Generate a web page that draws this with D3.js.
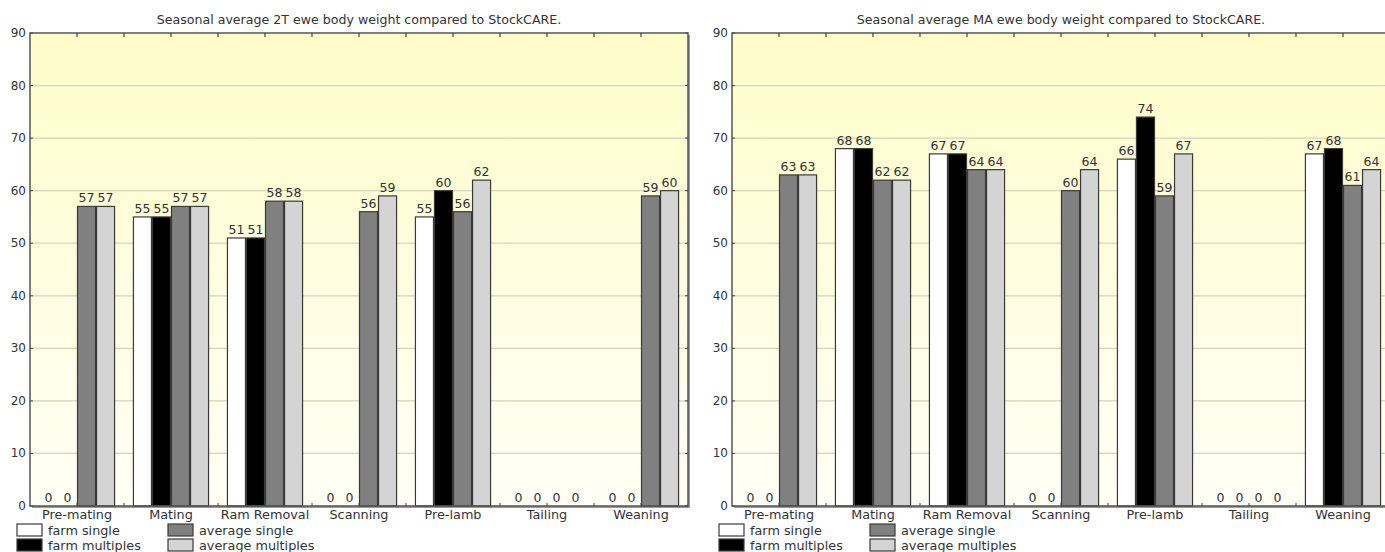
<!DOCTYPE html>
<html>
<head>
<meta charset="utf-8">
<script src="https://cdn.jsdelivr.net/npm/d3@7/dist/d3.min.js"></script>
<style>
  body { margin: 0; background: #fff; }
  text { font-family: "DejaVu Sans", Verdana, sans-serif; fill: #333; }
</style>
</head>
<body>
<script>
const categories = ["Pre-mating", "Mating", "Ram Removal", "Scanning", "Pre-lamb", "Tailing", "Weaning"];
const seriesNames = ["farm single", "farm multiples", "average single", "average multiples"];
const yTicks = [0, 10, 20, 30, 40, 50, 60, 70, 80, 90];

// 2T ewes
const farmSingle2T = [0, 55, 51, 0, 55, 0, 0];
const farmMultiples2T = [0, 55, 51, 0, 60, 0, 0];
const avgSingle2T = [57, 57, 58, 56, 56, 0, 59];
const avgMultiples2T = [57, 57, 58, 59, 62, 0, 60];

// MA ewes
const farmSingleMA = [0, 68, 67, 0, 66, 0, 67];
const farmMultiplesMA = [0, 68, 67, 0, 74, 0, 68];
const avgSingleMA = [63, 62, 64, 60, 59, 0, 61];
const avgMultiplesMA = [63, 62, 64, 64, 67, 0, 64];

const seriesColors = ["#ffffff", "#000000", "#808080", "#d4d4d4"];

const charts = [
    { title: "Seasonal average 2T ewe body weight compared to StockCARE.",
      series: [farmSingle2T, farmMultiples2T, avgSingle2T, avgMultiples2T], left: 30 },
    { title: "Seasonal average MA ewe body weight compared to StockCARE.",
      series: [farmSingleMA, farmMultiplesMA, avgSingleMA, avgMultiplesMA], left: 732 }
];

const W = 1385, H = 552;
const plotW = 658, plotTop = 33, plotBottom = 506;

const svg = d3.select("body").append("svg")
    .attr("width", W)
    .attr("height", H);

const defs = svg.append("defs");
const grad = defs.append("linearGradient")
    .attr("id", "bg")
    .attr("x1", 0).attr("y1", 0).attr("x2", 0).attr("y2", 1);
grad.append("stop").attr("offset", "0%").attr("stop-color", "#fffcc8");
grad.append("stop").attr("offset", "100%").attr("stop-color", "#fffff6");

charts.forEach(chart => {
    const g = svg.append("g").attr("transform", `translate(${chart.left},0)`);

    const x = d3.scaleBand().domain(categories).range([0, plotW]).padding(0);
    const xInner = d3.scaleBand().domain(d3.range(seriesNames.length))
        .range([x.bandwidth() * 0.095, x.bandwidth() * 0.905]).padding(0);
    const y = d3.scaleLinear().domain([0, 90]).range([plotBottom, plotTop]);

    // shadow + plot background
    g.append("rect")
        .attr("x", 2).attr("y", plotTop + 2)
        .attr("width", plotW).attr("height", plotBottom - plotTop)
        .attr("fill", "#9a9a9a");
    g.append("rect")
        .attr("x", 0).attr("y", plotTop)
        .attr("width", plotW).attr("height", plotBottom - plotTop)
        .attr("fill", "url(#bg)");

    // gridlines
    g.selectAll(".grid")
        .data(yTicks.slice(1, -1))
        .enter().append("line")
        .attr("x1", 0).attr("x2", plotW)
        .attr("y1", d => y(d)).attr("y2", d => y(d))
        .attr("stroke", "#d6d3c0")
        .attr("stroke-width", 1.3);

    // bars
    chart.series.forEach((vals, si) => {
        const cells = categories.map((c, i) => ({ cat: c, v: vals[i] }));
        g.selectAll(".bar" + si)
            .data(cells.filter(d => d.v > 0))
            .enter().append("rect")
            .attr("x", d => x(d.cat) + xInner(si) + 0.5)
            .attr("y", d => y(d.v))
            .attr("width", xInner.bandwidth() - 1)
            .attr("height", d => y(0) - y(d.v))
            .attr("fill", seriesColors[si])
            .attr("stroke", "#3a3a3a")
            .attr("stroke-width", 1.2);

        g.selectAll(".lbl" + si)
            .data(cells)
            .enter().append("text")
            .attr("x", d => x(d.cat) + xInner(si) + xInner.bandwidth() / 2)
            .attr("y", d => y(d.v) - 4)
            .attr("text-anchor", "middle")
            .style("font-size", "12.5px")
            .text(d => d.v);
    });

    // plot frame
    g.append("rect")
        .attr("x", 0).attr("y", plotTop)
        .attr("width", plotW).attr("height", plotBottom - plotTop)
        .attr("fill", "none")
        .attr("stroke", "#555")
        .attr("stroke-width", 1.5);

    // top / bottom ticks at every half category
    const halfTicks = d3.range(1, categories.length * 2).map(i => i * x.bandwidth() / 2);
    g.selectAll(".ttick").data(halfTicks).enter().append("line")
        .attr("x1", d => d).attr("x2", d => d)
        .attr("y1", plotTop).attr("y2", plotTop + 4)
        .attr("stroke", "#444").attr("stroke-width", 1.2);
    g.selectAll(".btick").data(halfTicks).enter().append("line")
        .attr("x1", d => d).attr("x2", d => d)
        .attr("y1", plotBottom).attr("y2", plotBottom - 3)
        .attr("stroke", "#444").attr("stroke-width", 1);

    // y axis ticks + labels
    g.selectAll(".ytick").data(yTicks).enter().append("line")
        .attr("x1", 0).attr("x2", 3)
        .attr("y1", d => y(d)).attr("y2", d => y(d))
        .attr("stroke", "#444");
    g.selectAll(".ytickR").data(yTicks).enter().append("line")
        .attr("x1", plotW - 3).attr("x2", plotW)
        .attr("y1", d => y(d)).attr("y2", d => y(d))
        .attr("stroke", "#444");
    g.selectAll(".ylbl").data(yTicks).enter().append("text")
        .attr("x", -4)
        .attr("y", d => y(d) + 4)
        .attr("text-anchor", "end")
        .style("font-size", "12px")
        .text(d => d);

    // category labels
    g.selectAll(".xlbl").data(categories).enter().append("text")
        .attr("x", d => x(d) + x.bandwidth() / 2)
        .attr("y", 519)
        .attr("text-anchor", "middle")
        .style("font-size", "12.8px")
        .text(d => d);

    // title
    g.append("text")
        .attr("x", plotW / 2)
        .attr("y", 24)
        .attr("text-anchor", "middle")
        .style("font-size", "12.6px")
        .text(chart.title);

    // legend
    const legend = g.selectAll(".leg").data(seriesNames).enter().append("g")
        .attr("transform", (d, i) => `translate(${-13 + Math.floor(i / 2) * 151},${524 + (i % 2) * 15})`);
    legend.append("rect")
        .attr("width", 25).attr("height", 12)
        .attr("fill", (d, i) => seriesColors[i])
        .attr("stroke", "#3a3a3a").attr("stroke-width", 1.2);
    legend.append("text")
        .attr("x", 31).attr("y", 10.5)
        .style("font-size", "12.8px")
        .text(d => d);
});
</script>
</body>
</html>
